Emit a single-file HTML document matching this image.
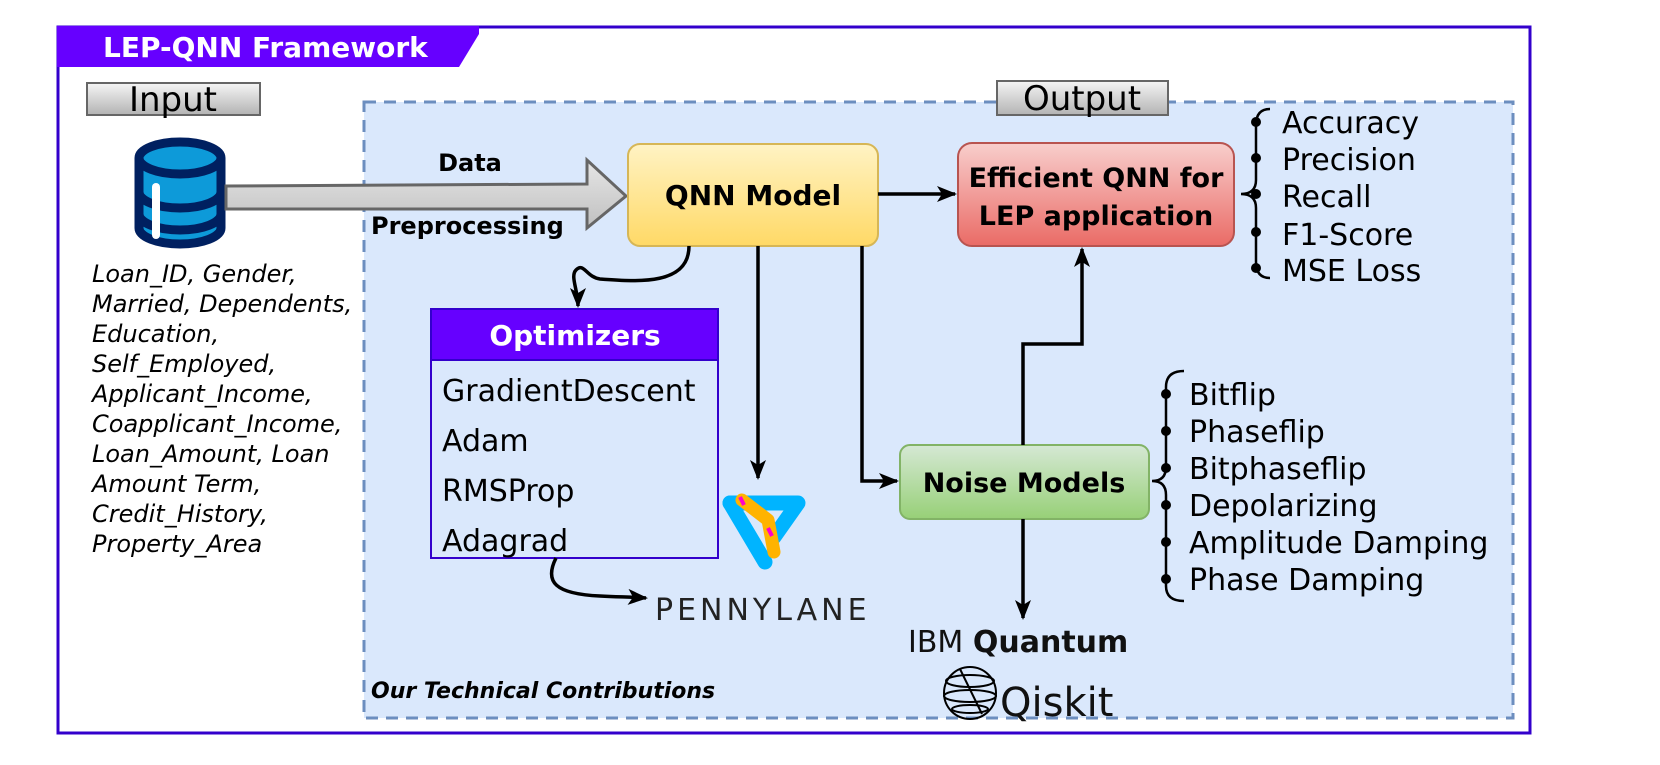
<!DOCTYPE html>
<html><head><meta charset="utf-8"><style>
html,body{margin:0;padding:0;background:#fff}
svg{display:block}
text{font-family:"DejaVu Sans","Liberation Sans",sans-serif}
</style></head><body>
<svg width="1660" height="765" viewBox="0 0 1660 765" xmlns="http://www.w3.org/2000/svg">
<defs>
<linearGradient id="gy" x1="0" y1="0" x2="0" y2="1"><stop offset="0" stop-color="#fff3c4"/><stop offset="1" stop-color="#ffd966"/></linearGradient>
<linearGradient id="rd" x1="0" y1="0" x2="0" y2="1"><stop offset="0" stop-color="#f8cecc"/><stop offset="1" stop-color="#ea6b66"/></linearGradient>
<linearGradient id="gr" x1="0" y1="0" x2="0" y2="1"><stop offset="0" stop-color="#d5e8d4"/><stop offset="1" stop-color="#97d077"/></linearGradient>
<linearGradient id="gb" x1="0" y1="0" x2="0" y2="1"><stop offset="0" stop-color="#f5f5f5"/><stop offset="1" stop-color="#b3b3b3"/></linearGradient>
<linearGradient id="ga" x1="0" y1="0" x2="0" y2="1"><stop offset="0" stop-color="#e6e6e6"/><stop offset="1" stop-color="#c0c0c0"/></linearGradient>
<marker id="ah" markerWidth="20" markerHeight="16" refX="18" refY="8" orient="auto" markerUnits="userSpaceOnUse" viewBox="0 0 20 16"><path d="M0,0 L20,8 L0,16 L5,8 Z" fill="#000"/></marker>
</defs>
<!-- outer -->
<rect x="58" y="27" width="1472" height="706" fill="#fff" stroke="#3300cc" stroke-width="3"/>
<path d="M57,26 L479,26 L479,34 L459,67 L57,67 Z" fill="#6600ff"/>
<text x="103" y="57" font-size="28" font-weight="bold" fill="#fff">LEP-QNN Framework</text>
<!-- dashed region -->
<rect x="364" y="102" width="1149" height="616" fill="#dae8fc" stroke="#6c8ebf" stroke-width="3" stroke-dasharray="12,8"/>
<!-- labels -->
<rect x="87" y="83" width="173" height="32" fill="url(#gb)" stroke="#666" stroke-width="2"/>
<text x="173" y="111" font-size="34" text-anchor="middle">Input</text>
<rect x="997" y="81" width="171" height="34" fill="url(#gb)" stroke="#666" stroke-width="2"/>
<text x="1082" y="110" font-size="34" text-anchor="middle">Output</text>
<!-- database -->
<g stroke="#002060" stroke-width="9">
<path d="M139,158 L139,228 A41,16 0 0 0 221,228 L221,158" fill="#0d9ad9"/>
<ellipse cx="180" cy="158" rx="41" ry="16" fill="#0d9ad9"/>
<path d="M139,192 A41,16 0 0 0 221,192 M139,214 A41,16 0 0 0 221,214" fill="none"/>
</g>
<rect x="152" y="183" width="8" height="56" rx="4" fill="#fff"/>
<!-- big arrow -->
<path d="M226,186 L587,184 L587,160 L626,196 L587,228 L587,209 L226,209 Z" fill="url(#ga)" stroke="#666" stroke-width="3"/>
<text x="470" y="171" font-size="24" font-weight="bold" text-anchor="middle">Data</text>
<text x="371" y="234" font-size="24" font-weight="bold">Preprocessing</text>
<!-- input fields -->
<g font-size="24" font-style="italic" fill="#000">
<text x="92" y="282">Loan_ID, Gender,</text>
<text x="92" y="312">Married, Dependents,</text>
<text x="92" y="342">Education,</text>
<text x="92" y="372">Self_Employed,</text>
<text x="92" y="402">Applicant_Income,</text>
<text x="92" y="432">Coapplicant_Income,</text>
<text x="92" y="462">Loan_Amount, Loan</text>
<text x="92" y="492">Amount Term,</text>
<text x="92" y="522">Credit_History,</text>
<text x="92" y="552">Property_Area</text>
</g>
<!-- QNN -->
<rect x="628" y="144" width="250" height="102" rx="12" fill="url(#gy)" stroke="#d6b656" stroke-width="2"/>
<text x="753" y="205" font-size="28" font-weight="bold" text-anchor="middle">QNN Model</text>
<!-- Efficient -->
<rect x="958" y="143" width="276" height="103" rx="14" fill="url(#rd)" stroke="#b85450" stroke-width="2"/>
<text x="1096" y="187" font-size="27" font-weight="bold" text-anchor="middle">Efficient QNN for</text>
<text x="1096" y="225" font-size="27" font-weight="bold" text-anchor="middle">LEP application</text>
<!-- metrics -->
<path d="M1270,109 Q1256,109 1256,125 L1256,180 Q1256,194 1241,194 Q1256,194 1256,208 L1256,262 Q1256,278 1270,278" fill="none" stroke="#000" stroke-width="2.5"/>
<g fill="#000"><circle cx="1256" cy="122" r="5"/><circle cx="1256" cy="158" r="5"/><circle cx="1256" cy="194" r="5"/><circle cx="1256" cy="232" r="5"/><circle cx="1256" cy="268" r="5"/></g>
<g font-size="30">
<text x="1282" y="133">Accuracy</text><text x="1282" y="170">Precision</text><text x="1282" y="207">Recall</text><text x="1282" y="245">F1-Score</text><text x="1282" y="281">MSE Loss</text>
</g>
<!-- Optimizers -->
<rect x="431" y="309" width="287" height="249" fill="#dae8fc" stroke="#3300cc" stroke-width="2"/>
<rect x="431" y="309" width="287" height="51" fill="#6600ff" stroke="#3300cc" stroke-width="2"/>
<text x="575" y="345" font-size="28" font-weight="bold" fill="#fff" text-anchor="middle">Optimizers</text>
<g font-size="30">
<text x="442" y="401">GradientDescent</text><text x="442" y="451">Adam</text><text x="442" y="501">RMSProp</text><text x="442" y="551">Adagrad</text>
</g>
<!-- Noise -->
<rect x="900" y="445" width="249" height="74" rx="10" fill="url(#gr)" stroke="#82b366" stroke-width="2"/>
<text x="1024" y="492" font-size="27" font-weight="bold" text-anchor="middle">Noise Models</text>
<path d="M1184,371 Q1166,371 1166,387 L1166,467 Q1166,481 1152,481 Q1166,481 1166,495 L1166,586 Q1166,601 1184,601" fill="none" stroke="#000" stroke-width="2.5"/>
<g fill="#000"><circle cx="1166" cy="394" r="5"/><circle cx="1166" cy="431" r="5"/><circle cx="1166" cy="468" r="5"/><circle cx="1166" cy="505" r="5"/><circle cx="1166" cy="542" r="5"/><circle cx="1166" cy="579" r="5"/></g>
<g font-size="30">
<text x="1189" y="405">Bitflip</text><text x="1189" y="442">Phaseflip</text><text x="1189" y="479">Bitphaseflip</text><text x="1189" y="516">Depolarizing</text><text x="1189" y="553">Amplitude Damping</text><text x="1189" y="590">Phase Damping</text>
</g>
<!-- connectors -->
<g fill="none" stroke="#000" stroke-width="3.5" marker-end="url(#ah)">
<path d="M878,194 L955,194"/>
<path d="M689,246 C689,285 640,282 600,279 C586,277 584,262 576,270 C570,276 578,290 578,306"/>
<path d="M758,246 L758,478"/>
<path d="M862,246 L862,481 L897,481"/>
<path d="M1023,445 L1023,344 L1082,344 L1082,249"/>
<path d="M1023,519 L1023,618"/>
<path d="M556,558 C544,582 555,594 600,596 C620,597 630,597 646,598"/>
</g>
<!-- pennylane logo -->
<path d="M730,503 L798,503 L774,537" fill="none" stroke="#00b4ff" stroke-width="15" stroke-linejoin="round" stroke-linecap="round"/>
<path d="M730,503 L765,562" fill="none" stroke="#00b4ff" stroke-width="15" stroke-linecap="round"/>
<path d="M742,500 L768,520 L774,552" fill="none" stroke="#ffb300" stroke-width="13" stroke-linecap="round" stroke-linejoin="round"/>
<path d="M740,497 L744,505 M768,528 L772,536" stroke="#ff00cc" stroke-width="4"/>
<text x="655" y="620" font-size="30" fill="#222" letter-spacing="4">PENNYLANE</text>
<!-- IBM -->
<text x="908" y="652" font-size="30" fill="#111">IBM <tspan font-weight="bold">Quantum</tspan></text>
<g fill="none" stroke="#000" stroke-width="2">
<circle cx="970" cy="693" r="26"/>
<ellipse cx="970" cy="681" rx="24" ry="6"/><ellipse cx="970" cy="696" rx="26" ry="6"/><ellipse cx="970" cy="709" rx="18" ry="4"/>
<path d="M960,669 L982,714"/>
</g>
<text x="1000" y="716" font-size="40" fill="#111">Qiskit</text>
<text x="371" y="698" font-size="22" font-style="italic" font-weight="bold">Our Technical Contributions</text>
</svg>
</body></html>
